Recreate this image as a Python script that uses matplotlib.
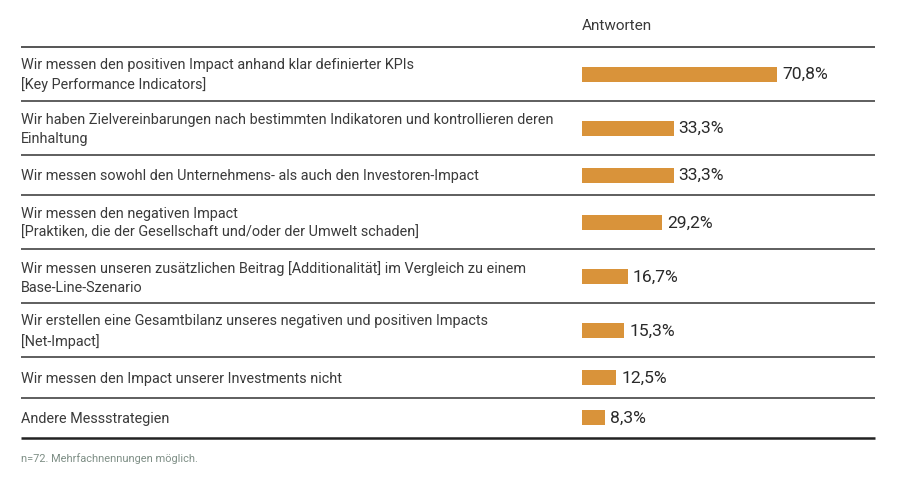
import matplotlib
matplotlib.use("Agg")
import matplotlib.pyplot as plt

categories = [
    "Wir messen den positiven Impact anhand klar definierter KPIs\n[Key Performance Indicators]",
    "Wir haben Zielvereinbarungen nach bestimmten Indikatoren und kontrollieren deren\nEinhaltung",
    "Wir messen sowohl den Unternehmens- als auch den Investoren-Impact",
    "Wir messen den negativen Impact\n[Praktiken, die der Gesellschaft und/oder der Umwelt schaden]",
    "Wir messen unseren zusätzlichen Beitrag [Additionalität] im Vergleich zu einem\nBase-Line-Szenario",
    "Wir erstellen eine Gesamtbilanz unseres negativen und positiven Impacts\n[Net-Impact]",
    "Wir messen den Impact unserer Investments nicht",
    "Andere Messstrategien",
]
values = [70.8, 33.3, 33.3, 29.2, 16.7, 15.3, 12.5, 8.3]
header = "Antworten"
footnote = "n=72. Mehrfachnennungen möglich."

W, H = 908, 499
FONT = "Roboto"
TEXT = "#3a3a3a"
BAR = "#d9933a"

fig = plt.figure(figsize=(W / 100, H / 100), dpi=100)
fig.patch.set_facecolor("white")

# layout in pixel units
top_y, bot_y = 47, 438
x_left, x_right = 21, 875
bar_x0 = 582
px_per_pct = 2.754

# row heights derived from number of text lines
nlines = [c.count("\n") + 1 for c in categories]
raw = [26.6 + 13.7 * n for n in nlines]
scale = (bot_y - top_y) / sum(raw)
heights = [r * scale for r in raw]
edges = [top_y]
for h in heights:
    edges.append(edges[-1] + h)
centers = [(edges[i] + edges[i + 1]) / 2 for i in range(len(heights))]

# background axes in pixel coordinates
bg = fig.add_axes([0, 0, 1, 1])
bg.set_xlim(0, W)
bg.set_ylim(H, 0)
bg.axis("off")

bg.plot([x_left, x_right], [top_y, top_y], color="#555555", lw=1.4, solid_capstyle="butt")
for e in edges[1:-1]:
    bg.plot([x_left, x_right], [e, e], color="#333333", lw=1.1, solid_capstyle="butt")
bg.plot([x_left, x_right], [bot_y, bot_y], color="#222222", lw=1.8, solid_capstyle="butt")

for c, y in zip(categories, centers):
    bg.text(x_left, y + 1.2, c, ha="left", va="center", fontsize=10.4, color=TEXT,
            family=FONT, linespacing=1.45)

bg.text(bar_x0, 26, header, ha="left", va="center", fontsize=11.0, color=TEXT, family=FONT)
bg.text(x_left, 459, footnote, ha="left", va="center", fontsize=7.9, color="#7f8f86", family=FONT)

# bar axes
ax_w = 100 * px_per_pct
ax = fig.add_axes([bar_x0 / W, 1 - bot_y / H, ax_w / W, (bot_y - top_y) / H])
ax.set_xlim(0, 100)
ax.set_ylim(bot_y, top_y)
ax.axis("off")
ax.patch.set_alpha(0)
ax.barh(centers, values, height=15, color=BAR, left=0)
for v, y in zip(values, centers):
    ax.text(v + 1.8, y + 0.5, f"{v:.1f}%".replace(".", ","), ha="left", va="center",
            fontsize=12.6, color="#2a2a2a", family=FONT)

fig.savefig("out.png", dpi=100)
